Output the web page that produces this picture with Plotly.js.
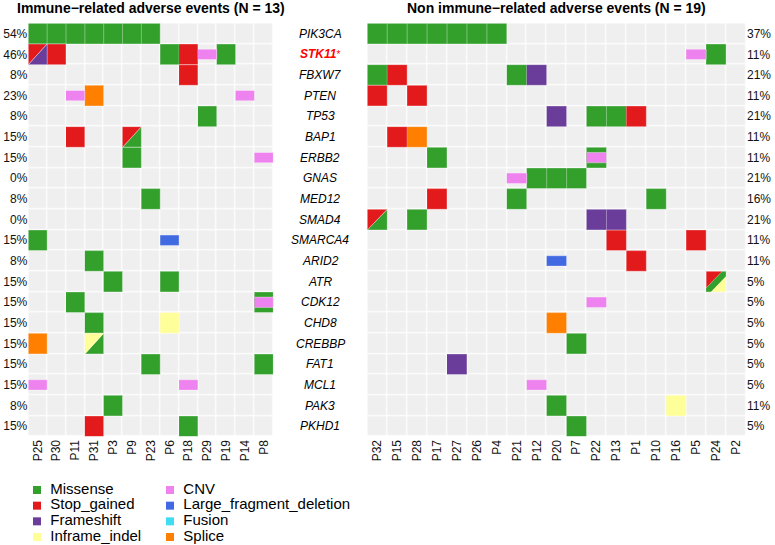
<!DOCTYPE html>
<html>
<head>
<meta charset="utf-8">
<script src="https://cdn.plot.ly/plotly-3.0.1.min.js"></script>
<style>html,body{margin:0;padding:0;background:#fff;}#chart{width:775px;height:545px;}</style>
</head>
<body>
<div id="chart"></div>
<script>
// ---------------- DATA ----------------
const genes = ["PIK3CA","STK11","FBXW7","PTEN","TP53","BAP1","ERBB2","GNAS","MED12","SMAD4",
  "SMARCA4","ARID2","ATR","CDK12","CHD8","CREBBP","FAT1","MCL1","PAK3","PKHD1"];

const irTitle = "Immune\u2212related adverse events (N = 13)";
const nirTitle = "Non immune\u2212related adverse events (N = 19)";

const irPatients = ["P25","P30","P11","P31","P3","P9","P23","P6","P18","P29","P19","P14","P8"];
const irPct = ["54%","46%","8%","23%","8%","15%","15%","0%","8%","0%",
  "15%","8%","15%","15%","15%","15%","15%","15%","8%","15%"];

const nirPatients = ["P32","P15","P28","P17","P27","P26","P4","P21","P12","P20","P7","P22","P13","P1","P10","P16","P5","P24","P2"];
const nirPct = ["37%","11%","21%","11%","21%","11%","11%","21%","16%","21%",
  "11%","11%","5%","5%","5%","5%","5%","5%","11%","5%"];

const types = ["Missense","Stop_gained","Frameshift","Inframe_indel","CNV","Large_fragment_deletion","Fusion","Splice"];
const typeColors = ["#33A02C","#E31A1C","#6A3D9A","#FFFF99","#EE82EE","#4169E1","#40DCF2","#FF7F00"];
const smallTypes = ["CNV","Large_fragment_deletion"];

const irAlterations = [
  ["PIK3CA","P25","Missense"],["PIK3CA","P30","Missense"],["PIK3CA","P11","Missense"],["PIK3CA","P31","Missense"],
  ["PIK3CA","P3","Missense"],["PIK3CA","P9","Missense"],["PIK3CA","P23","Missense"],
  ["STK11","P25","Stop_gained;Frameshift"],["STK11","P30","Stop_gained"],["STK11","P6","Missense"],
  ["STK11","P18","Stop_gained"],["STK11","P29","CNV"],["STK11","P19","Missense"],
  ["FBXW7","P18","Stop_gained"],
  ["PTEN","P11","CNV"],["PTEN","P31","Splice"],["PTEN","P14","CNV"],
  ["TP53","P29","Missense"],
  ["BAP1","P11","Stop_gained"],["BAP1","P9","Stop_gained;Missense"],
  ["ERBB2","P9","Missense"],["ERBB2","P8","CNV"],
  ["MED12","P23","Missense"],
  ["SMARCA4","P25","Missense"],["SMARCA4","P6","Large_fragment_deletion"],
  ["ARID2","P31","Missense"],
  ["ATR","P3","Missense"],["ATR","P6","Missense"],
  ["CDK12","P11","Missense"],["CDK12","P8","Missense;CNV"],
  ["CHD8","P31","Missense"],["CHD8","P6","Inframe_indel"],
  ["CREBBP","P25","Splice"],["CREBBP","P31","Inframe_indel;Missense"],
  ["FAT1","P23","Missense"],["FAT1","P8","Missense"],
  ["MCL1","P25","CNV"],["MCL1","P18","CNV"],
  ["PAK3","P3","Missense"],
  ["PKHD1","P31","Stop_gained"],["PKHD1","P18","Missense"]
];

const nirAlterations = [
  ["PIK3CA","P32","Missense"],["PIK3CA","P15","Missense"],["PIK3CA","P28","Missense"],["PIK3CA","P17","Missense"],
  ["PIK3CA","P27","Missense"],["PIK3CA","P26","Missense"],["PIK3CA","P4","Missense"],
  ["STK11","P5","CNV"],["STK11","P24","Missense"],
  ["FBXW7","P32","Missense"],["FBXW7","P15","Stop_gained"],["FBXW7","P21","Missense"],["FBXW7","P12","Frameshift"],
  ["PTEN","P32","Stop_gained"],["PTEN","P28","Stop_gained"],
  ["TP53","P20","Frameshift"],["TP53","P22","Missense"],["TP53","P13","Missense"],["TP53","P1","Stop_gained"],
  ["BAP1","P15","Stop_gained"],["BAP1","P28","Splice"],
  ["ERBB2","P17","Missense"],["ERBB2","P22","Missense;CNV"],
  ["GNAS","P21","CNV"],["GNAS","P12","Missense"],["GNAS","P20","Missense"],["GNAS","P7","Missense"],
  ["MED12","P17","Stop_gained"],["MED12","P21","Missense"],["MED12","P10","Missense"],
  ["SMAD4","P32","Stop_gained;Missense"],["SMAD4","P28","Missense"],["SMAD4","P22","Frameshift"],["SMAD4","P13","Frameshift"],
  ["SMARCA4","P13","Stop_gained"],["SMARCA4","P5","Stop_gained"],
  ["ARID2","P20","Large_fragment_deletion"],["ARID2","P1","Stop_gained"],
  ["ATR","P24","Stop_gained;Missense;Inframe_indel"],
  ["CDK12","P22","CNV"],
  ["CHD8","P20","Splice"],
  ["CREBBP","P7","Missense"],
  ["FAT1","P27","Frameshift"],
  ["MCL1","P12","CNV"],
  ["PAK3","P20","Missense"],["PAK3","P16","Inframe_indel"],
  ["PKHD1","P7","Missense"]
];

// ---------------- DRAWING ----------------
const W = 775, H = 545;
const FONT = "Liberation Sans, Arial, Helvetica, sans-serif";
const splitBounds = {1: [], 2: [1], 3: [0.8, 1.25]};
const unitSquare = [[0,0],[1,0],[1,1],[0,1]];
const band = [[0,0.25],[1,0.25],[1,0.75],[0,0.75]];

function clipHalf(pts, f) {
  const out = [];
  for (let i = 0; i < pts.length; i++) {
    const cur = pts[i], prev = pts[(i + pts.length - 1) % pts.length];
    const fc = f(cur), fp = f(prev);
    const inter = () => { const t = fp / (fp - fc); return [prev[0] + t*(cur[0]-prev[0]), prev[1] + t*(cur[1]-prev[1])]; };
    if (fc >= 0) { if (fp < 0) out.push(inter()); out.push(cur); }
    else if (fp >= 0) out.push(inter());
  }
  return out;
}

function buildPanel(patients, alts, xa, ya) {
  const polys = {};
  types.forEach(t => polys[t] = {x: [], y: []});
  const push = (t, poly, c, r) => {
    poly.forEach(p => { polys[t].x.push(c - 0.5 + p[0]); polys[t].y.push(r - 0.5 + p[1]); });
    polys[t].x.push(null); polys[t].y.push(null);
  };
  alts.forEach(([g, p, ts]) => {
    const r = genes.indexOf(g), c = patients.indexOf(p);
    const list = ts.split(";");
    const full = list.filter(t => !smallTypes.includes(t));
    const sm = list.filter(t => smallTypes.includes(t));
    const b = splitBounds[full.length] || [];
    full.forEach((t, k) => {
      let poly = unitSquare;
      if (k > 0) { const lo = b[k-1]; poly = clipHalf(poly, q => q[0] + q[1] - lo); }
      if (k < full.length - 1) { const hi = b[k]; poly = clipHalf(poly, q => hi - (q[0] + q[1])); }
      push(t, poly, c, r);
    });
    sm.forEach(t => push(t, band, c, r));
  });
  const bg = {
    type: "heatmap", xaxis: xa, yaxis: ya,
    x: patients.map((_, i) => i), y: genes.map((_, i) => i),
    z: genes.map(() => patients.map(() => 0)),
    zmin: 0, zmax: 1, colorscale: [[0, "#EFEFEF"], [1, "#EFEFEF"]],
    showscale: false, xgap: 1.2, ygap: 1.2, hoverinfo: "skip"
  };
  const order = types.filter(t => !smallTypes.includes(t)).concat(smallTypes);
  const tr = order.map(t => ({
    type: "scatter", mode: "lines", xaxis: xa, yaxis: ya,
    x: polys[t].x, y: polys[t].y, fill: "toself",
    fillcolor: typeColors[types.indexOf(t)],
    line: {color: "rgba(255,255,255,0.45)", width: 0.8},
    hoverinfo: "skip", showlegend: false
  }));
  return [bg].concat(tr);
}

const traces = []
  .concat(buildPanel(irPatients, irAlterations, "x", "y"))
  .concat(buildPanel(nirPatients, nirAlterations, "x2", "y2"));

// legend drawn as markers + text on a hidden axis (2 columns x 4 rows)
traces.push({
  type: "scatter", mode: "markers", xaxis: "x3", yaxis: "y3",
  x: types.map((_, i) => Math.floor(i / 4)), y: types.map((_, i) => i % 4),
  marker: {symbol: "square", size: 8, color: typeColors},
  cliponaxis: false, hoverinfo: "skip", showlegend: false
});
traces.push({
  type: "scatter", mode: "text", xaxis: "x3", yaxis: "y3",
  x: types.map((_, i) => Math.floor(i / 4) + 0.1), y: types.map((_, i) => i % 4),
  text: types, textposition: "middle right",
  textfont: {family: FONT, size: 15, color: "#000"},
  cliponaxis: false, hoverinfo: "skip", showlegend: false
});

const yDom = [1 - 436.6 / H, 1 - 23.3 / H];
const tickFont = {family: FONT, size: 12, color: "#111"};
const commonX = {showgrid: false, zeroline: false, showline: false, ticks: "", tickangle: -90,
  tickfont: tickFont, fixedrange: true};
const commonY = {showgrid: false, zeroline: false, showline: false, ticks: "",
  tickfont: tickFont, range: [genes.length - 0.5, -0.5], fixedrange: true,
  tickvals: genes.map((_, i) => i)};

const annotations = [
  {text: "<b>" + irTitle + "</b>", xref: "x domain", yref: "paper", x: 0.5, y: 1 - 8 / H,
   xanchor: "center", yanchor: "middle", showarrow: false, font: {family: FONT, size: 14, color: "#000"}},
  {text: "<b>" + nirTitle + "</b>", xref: "x2 domain", yref: "paper", x: 0.5, y: 1 - 8 / H,
   xanchor: "center", yanchor: "middle", showarrow: false, font: {family: FONT, size: 14, color: "#000"}}
];
genes.forEach((g, i) => {
  const isStk = g === "STK11";
  annotations.push({
    text: isStk ? "<b><i>" + g + "</i></b><span style=\"font-size:10px\">*</span>" : "<i>" + g + "</i>",
    xref: "paper", yref: "y", x: 320 / W, y: i, xanchor: "center", yanchor: "middle",
    showarrow: false, font: {family: FONT, size: 12, color: isStk ? "#FF0000" : "#000"}
  });
});

const layout = {
  width: W, height: H, margin: {l: 0, r: 0, t: 0, b: 0},
  paper_bgcolor: "#fff", plot_bgcolor: "#fff", showlegend: false,
  font: {family: FONT},
  xaxis: Object.assign({}, commonX, {domain: [28.3 / W, 273.3 / W], range: [-0.5, irPatients.length - 0.5],
    tickvals: irPatients.map((_, i) => i), ticktext: irPatients, anchor: "y"}),
  yaxis: Object.assign({}, commonY, {domain: yDom, ticktext: irPct, side: "left", anchor: "x"}),
  xaxis2: Object.assign({}, commonX, {domain: [367.3 / W, 746 / W], range: [-0.5, nirPatients.length - 0.5],
    tickvals: nirPatients.map((_, i) => i), ticktext: nirPatients, anchor: "y2"}),
  yaxis2: Object.assign({}, commonY, {domain: yDom, ticktext: nirPct, side: "right", anchor: "x2"}),
  xaxis3: {domain: [37 / W, 303 / W], range: [0, 2], visible: false, fixedrange: true, anchor: "y3"},
  yaxis3: {domain: [1 - 537 / H, 1 - 490 / H], range: [3, 0], visible: false, fixedrange: true, anchor: "x3"},
  annotations: annotations
};

Plotly.newPlot("chart", traces, layout, {staticPlot: true, displayModeBar: false});
</script>
</body>
</html>
